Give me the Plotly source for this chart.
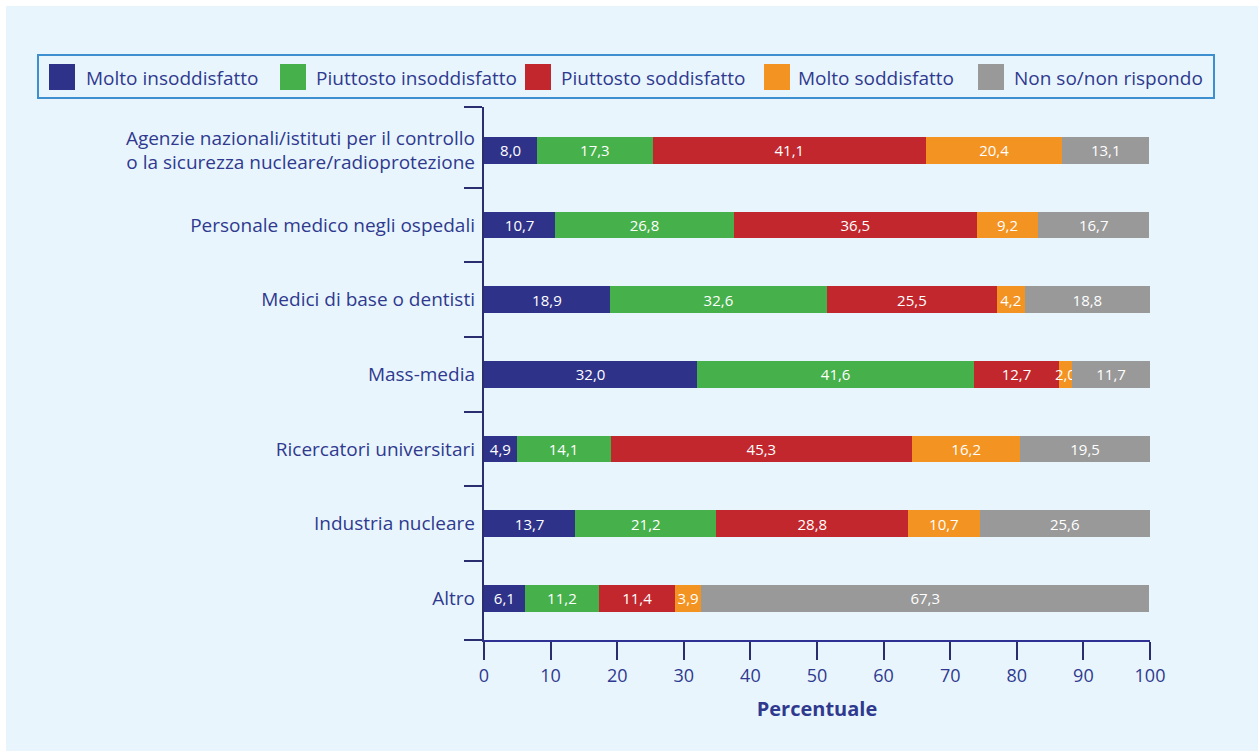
import plotly.graph_objects as go

# ---------------- data ----------------
categories = [
    "Agenzie nazionali/istituti per il controllo<br>o la sicurezza nucleare/radioprotezione",
    "Personale medico negli ospedali",
    "Medici di base o dentisti",
    "Mass-media",
    "Ricercatori universitari",
    "Industria nucleare",
    "Altro",
]
series_names = [
    "Molto insoddisfatto",
    "Piuttosto insoddisfatto",
    "Piuttosto soddisfatto",
    "Molto soddisfatto",
    "Non so/non rispondo",
]
molto_insoddisfatto = [8.0, 10.7, 18.9, 32.0, 4.9, 13.7, 6.1]
piuttosto_insoddisfatto = [17.3, 26.8, 32.6, 41.6, 14.1, 21.2, 11.2]
piuttosto_soddisfatto = [41.1, 36.5, 25.5, 12.7, 45.3, 28.8, 11.4]
molto_soddisfatto = [20.4, 9.2, 4.2, 2.0, 16.2, 10.7, 3.9]
non_so = [13.1, 16.7, 18.8, 11.7, 19.5, 25.6, 67.3]
x_tick_values = [0, 10, 20, 30, 40, 50, 60, 70, 80, 90, 100]
x_title = "Percentuale"

series_values = [molto_insoddisfatto, piuttosto_insoddisfatto,
                 piuttosto_soddisfatto, molto_soddisfatto, non_so]
colors = ["#2e3389", "#46b04b", "#c1272d", "#f39322", "#999999"]

# ---------------- style ----------------
W, H = 1258, 751
ML, MR, MT, MB = 484, 108, 107, 111
PW, PH = W - ML - MR, H - MT - MB
NAVY_TXT = "#2f3a8f"
NAVY_AX = "#2b2e6e"
FONT = "Open Sans"
BG = "#e9f5fd"


def px_x(px):
    return (px - ML) / PW


def px_y(py):
    return (H - MB - py) / PH


fmt = lambda v: f"{v:.1f}".replace(".", ",")
idx = list(range(len(categories)))
y_range = [6.557, -0.579]

fig = go.Figure()
for name, vals, col in zip(series_names, series_values, colors):
    fig.add_trace(go.Bar(
        y=idx, x=vals, orientation="h", name=name,
        marker=dict(color=col, line=dict(width=0)),
        width=0.357,
        text=[fmt(v) for v in vals],
        textposition="inside", insidetextanchor="middle",
        textangle=0, constraintext="none",
        textfont=dict(color="white", size=15, family=FONT),
        showlegend=False, hoverinfo="skip", cliponaxis=False,
    ))

# invisible trace to carry the category label axis
fig.add_trace(go.Scatter(
    x=[0] * len(idx), y=idx, yaxis="y2", mode="markers",
    marker=dict(opacity=0), showlegend=False, hoverinfo="skip",
))

boundaries = [y_range[1]] + [i + 0.5 for i in idx[:-1]] + [y_range[0]]

shapes = [
    dict(type="rect", xref="paper", yref="paper", layer="below",
         x0=px_x(6), x1=px_x(W + 2), y0=px_y(H + 2), y1=px_y(6),
         fillcolor=BG, line=dict(width=0)),
    # legend box
    dict(type="rect", xref="paper", yref="paper",
         x0=px_x(38), x1=px_x(1214), y0=px_y(98), y1=px_y(55),
         line=dict(color="#3d8fcf", width=2), fillcolor="rgba(0,0,0,0)"),
]
annotations = []
sq_x = [49, 280, 525, 764, 978]
tx_x = [84, 314, 559, 796, 1012]
for name, col, sx, tx in zip(series_names, colors, sq_x, tx_x):
    shapes.append(dict(type="rect", xref="paper", yref="paper",
                       x0=px_x(sx), x1=px_x(sx + 26), y0=px_y(90), y1=px_y(64),
                       fillcolor=col, line=dict(width=0)))
    annotations.append(dict(xref="paper", yref="paper", x=px_x(tx), y=px_y(78),
                            text=name, showarrow=False, xanchor="left",
                            yanchor="middle",
                            font=dict(size=19, color=NAVY_TXT, family=FONT)))

fig.update_layout(
    width=W, height=H,
    margin=dict(l=ML, r=MR, t=MT, b=MB),
    barmode="stack",
    paper_bgcolor="white", plot_bgcolor="rgba(0,0,0,0)",
    font=dict(family=FONT, color=NAVY_TXT),
    uniformtext=dict(minsize=15, mode="show"),
    shapes=shapes, annotations=annotations,
    xaxis=dict(
        range=[0, 100], tickmode="array", tickvals=x_tick_values,
        ticks="outside", ticklen=18, tickwidth=2, tickcolor=NAVY_AX,
        showline=True, linecolor="#2e3192", linewidth=2,
        showgrid=False, zeroline=False,
        tickfont=dict(size=18, color=NAVY_TXT, family=FONT),
        title=dict(text=f"<b>{x_title}</b>", standoff=16,
                   font=dict(size=20, color=NAVY_TXT, family=FONT)),
    ),
    yaxis=dict(
        range=y_range, tickmode="array", tickvals=boundaries,
        ticktext=[""] * len(boundaries),
        ticks="outside", ticklen=18, tickwidth=2, tickcolor=NAVY_AX,
        showline=True, linecolor=NAVY_AX, linewidth=2,
        showgrid=False, zeroline=False,
    ),
    yaxis2=dict(
        overlaying="y", side="left", range=y_range,
        tickmode="array", tickvals=idx, ticktext=categories,
        ticks="", showline=False, showgrid=False, zeroline=False,
        ticklabelstandoff=8,
        tickfont=dict(size=19, color=NAVY_TXT, family=FONT),
    ),
)

fig.write_html("out.html")
